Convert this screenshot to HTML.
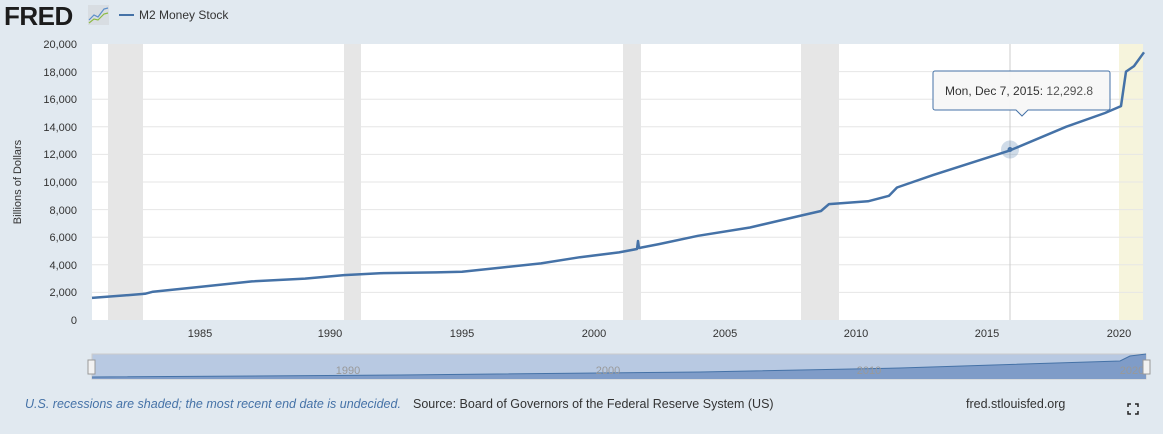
<!DOCTYPE html>
<html><head><style>
body{margin:0;width:1163px;height:429px;background:#e1e9f0;font-family:"Liberation Sans",sans-serif;overflow:hidden}
</style></head><body>
<svg width="1163" height="429" xmlns="http://www.w3.org/2000/svg" font-family="Liberation Sans, sans-serif">
<rect width="1163" height="429" fill="#e1e9f0"/>
<text x="4" y="25" font-size="26" font-weight="bold" fill="#1c1c1c" letter-spacing="-0.5">FRED</text>
<rect x="88" y="5" width="21" height="20" fill="#d8dde2"/>
<polyline points="89,20 94,15 98,17 104,9 108,8" fill="none" stroke="#5b8ec9" stroke-width="1.2"/>
<polyline points="89,23 94,19 98,20 104,14 108,13" fill="none" stroke="#8dbb45" stroke-width="1.2"/>
<line x1="119" y1="15" x2="134" y2="15" stroke="#4572a7" stroke-width="2"/>
<text x="139" y="19" font-size="12" fill="#333">M2 Money Stock</text>
<rect x="92" y="44" width="1051" height="276" fill="#fff"/>
<g fill="#e6e6e6">
<rect x="108" y="44" width="35" height="276"/><rect x="344" y="44" width="17" height="276"/>
<rect x="623" y="44" width="18" height="276"/><rect x="801" y="44" width="38" height="276"/>
</g>
<rect x="1119" y="44" width="24" height="276" fill="#f6f4dc"/>
<g stroke="#e6e6e6" stroke-width="1">
<line x1="92" y1="71.6" x2="1143" y2="71.6"/><line x1="92" y1="99.2" x2="1143" y2="99.2"/>
<line x1="92" y1="126.8" x2="1143" y2="126.8"/><line x1="92" y1="154.4" x2="1143" y2="154.4"/>
<line x1="92" y1="182" x2="1143" y2="182"/><line x1="92" y1="209.6" x2="1143" y2="209.6"/>
<line x1="92" y1="237.2" x2="1143" y2="237.2"/><line x1="92" y1="264.8" x2="1143" y2="264.8"/>
<line x1="92" y1="292.4" x2="1143" y2="292.4"/>
</g>
<g font-size="11" fill="#333" text-anchor="end">
<text x="77" y="48">20,000</text><text x="77" y="76">18,000</text><text x="77" y="103">16,000</text>
<text x="77" y="131">14,000</text><text x="77" y="158">12,000</text><text x="77" y="186">10,000</text>
<text x="77" y="214">8,000</text><text x="77" y="241">6,000</text><text x="77" y="269">4,000</text>
<text x="77" y="296">2,000</text><text x="77" y="324">0</text>
</g>
<text transform="translate(21,182) rotate(-90)" font-size="11" fill="#333" text-anchor="middle">Billions of Dollars</text>
<g font-size="11" fill="#333" text-anchor="middle">
<text x="200" y="337">1985</text><text x="330" y="337">1990</text><text x="462" y="337">1995</text>
<text x="594" y="337">2000</text><text x="725" y="337">2005</text><text x="856" y="337">2010</text>
<text x="987" y="337">2015</text><text x="1119" y="337">2020</text>
</g>
<line x1="1010" y1="44" x2="1010" y2="320" stroke="#ccc"/>
<polyline fill="none" stroke="#4572a7" stroke-width="2.5" stroke-linejoin="round" points="92,297.9 145,293.8 153,291.7 200,286.9 252,281.4 305,278.6 344,275.1 383,273.1 436,272.4 462,271.7 501,267.6 541,263.4 580,257.2 619,252.4 637,249 638,241 639,248 659,244.1 698,235.8 750,227.5 803,215.1 821,211 829,204.1 868,201.3 889,195.8 897,187.5 933,175.1 1010,150.4 1066,126.8 1105,113 1121,106.1 1126,71.6 1134,66.1 1144,52.3"/>
<circle cx="1010" cy="149.5" r="9" fill="#4572a7" fill-opacity="0.25"/>
<circle cx="1010" cy="149.5" r="2.5" fill="#4572a7"/>
<path d="M935,71 H1108 a2,2 0 0 1 2,2 V108 a2,2 0 0 1 -2,2 H1028 L1022,116 L1016,110 H935 a2,2 0 0 1 -2,-2 V73 a2,2 0 0 1 2,-2Z" fill="#f7f7f7" fill-opacity="0.95" stroke="#4572a7"/>
<text x="945" y="95" font-size="12" fill="#333">Mon, Dec 7, 2015: <tspan fill="#555">12,292.8</tspan></text>
<rect x="92" y="354" width="1054" height="25" fill="#b8c9e2" stroke="#ccc"/>
<polygon points="92,377 400,375 700,372 900,368 1120,361 1130,356 1146,354 1146,379 92,379" fill="#7f9cc8"/>
<polyline points="92,377 400,375 700,372 900,368 1120,361 1130,356 1146,354" fill="none" stroke="#4572a7"/>
<g font-size="11" fill="#999" text-anchor="middle">
<text x="348" y="374">1990</text><text x="608" y="374">2000</text><text x="869" y="374">2010</text><text x="1132" y="374">2020</text>
</g>
<rect x="88" y="360" width="7" height="14" fill="#f2f2f2" stroke="#999"/>
<rect x="1143" y="360" width="7" height="14" fill="#f2f2f2" stroke="#999"/>
<text x="25" y="408" font-size="12.5" font-style="italic" fill="#4572a7">U.S. recessions are shaded; the most recent end date is undecided.</text>
<text x="413" y="408" font-size="12.5" fill="#333">Source: Board of Governors of the Federal Reserve System (US)</text>
<text x="966" y="408" font-size="12.5" fill="#333">fred.stlouisfed.org</text>
<g stroke="#222" stroke-width="1.5" fill="none">
<path d="M1128,407 v-3 h3 M1135,404 h3 v3 M1138,411 v3 h-3 M1131,414 h-3 v-3"/>
</g>
</svg>
</body></html>
